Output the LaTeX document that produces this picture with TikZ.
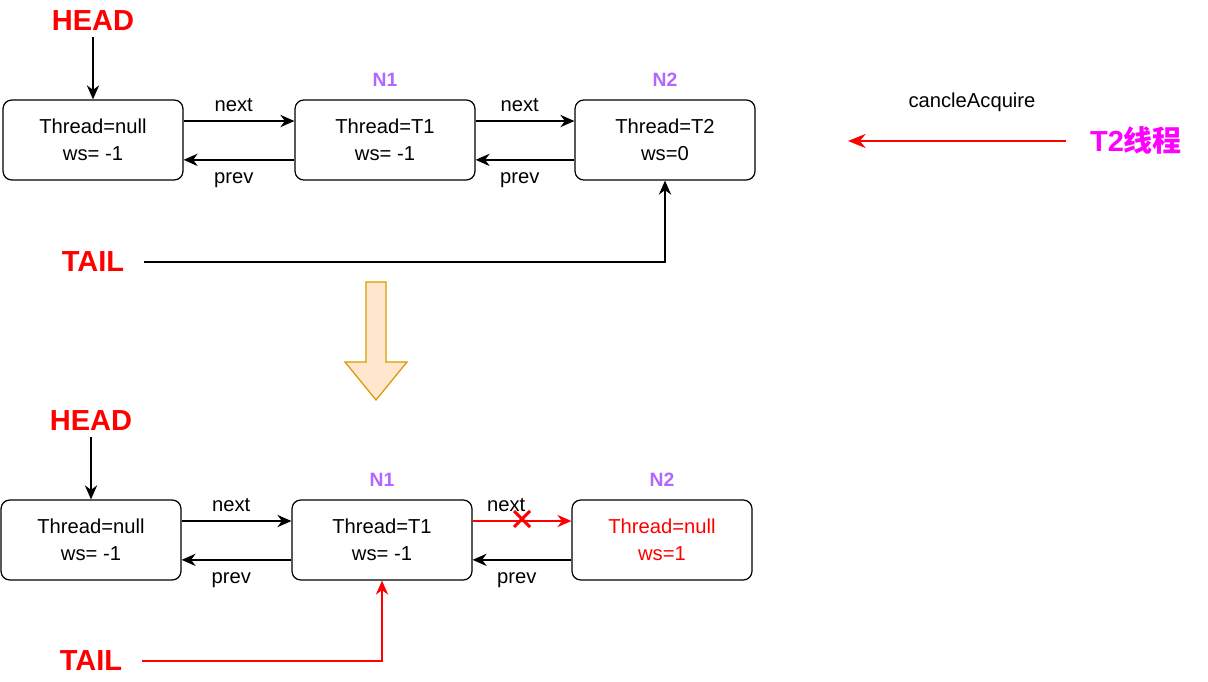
\documentclass[tikz,border=0pt]{standalone}
\usepackage{fontspec}
\setmainfont{Liberation Sans}
\newfontfamily\cjk{Noto Sans CJK SC}
\usetikzlibrary{arrows.meta,positioning,calc}
\definecolor{nodepurple}{HTML}{B266FF}
\definecolor{bigfill}{HTML}{FFE6CC}
\definecolor{bigdraw}{HTML}{D79B00}
\definecolor{tmagenta}{HTML}{FF00FF}

\begin{document}
\begin{tikzpicture}[x=0.02cm,y=-0.02cm,
    box/.style={draw, rounded corners=5pt, minimum width=3.6cm, minimum height=1.6cm, align=center, font=\fontsize{11.5}{15.5}\selectfont, line width=0.7pt},
    lbl/.style={font=\fontsize{11.5}{14}\selectfont, inner sep=5pt},
    ptr/.style={font=\bfseries\fontsize{16.5}{18}\selectfont, text=red},
    nname/.style={font=\bfseries\fontsize{11}{13}\selectfont, text=nodepurple},
    arr/.style={-{Stealth[length=8pt,width=7pt]}, line width=0.75pt}]

        \useasboundingbox (0,0) rectangle (1208,682);

        % before
        \node[box] (a1) at (93,140) {Thread=null\\ws= -1};
        \node[box] (a2) at (385,140) {Thread=T1\\ws= -1};
        \node[box] (a3) at (665,140) {Thread=T2\\ws=0};
        \node[nname] at (385,80) {N1};
        \node[nname] at (665,80) {N2};
        \node[ptr] (head1) at (93,21) {HEAD};
        \node[ptr] (tail1) at (93,262) {TAIL};

        \draw[arr] (head1) -- (a1);
        \draw[arr] ([yshift=10.8pt]a1.east) -- node[lbl,above,xshift=-3] {next} ([yshift=10.8pt]a2.west);
        \draw[arr] ([yshift=10.8pt]a2.east) -- node[lbl,above,xshift=-3] {next} ([yshift=10.8pt]a3.west);
        \draw[arr] ([yshift=-11.3pt]a2.west) -- node[lbl,below,xshift=-3,yshift=-2] {prev} ([yshift=-11.3pt]a1.east);
        \draw[arr] ([yshift=-11.3pt]a3.west) -- node[lbl,below,xshift=-3,yshift=-2] {prev} ([yshift=-11.3pt]a2.east);
        \draw[arr] (tail1.east) ++(14,0) -| (a3.south);

        % cancel
        \node[font=\bfseries\fontsize{16.5}{18}\selectfont, text=tmagenta] (t2) at (1136,140) {T2{\cjk 线程}};
        \coordinate (c1) at (848,141);
        \draw[-{Stealth[length=10pt,width=8pt]}, line width=1.3pt, red] (t2.west) ++(-18,1) -- (c1);
        \node[lbl] at (972,102) {cancleAcquire};

        % big arrow
        \draw[fill=bigfill, draw=bigdraw, line width=0.7pt]
            (366,282) -- (386,282) -- (386,362) -- (407,362) -- (376,400) -- (345,362) -- (366,362) -- cycle;

        % after
        \node[box] (b1) at (91,540) {Thread=null\\ws= -1};
        \node[box] (b2) at (382,540) {Thread=T1\\ws= -1};
        \node[box, text=red] (b3) at (662,540) {Thread=null\\ws=1};
        \node[nname] at (382,480) {N1};
        \node[nname] at (662,480) {N2};
        \node[ptr] (head2) at (91,421) {HEAD};
        \node[ptr] (tail2) at (91,661) {TAIL};

        \draw[arr] (head2) -- (b1);
        \draw[arr] ([yshift=10.8pt]b1.east) -- node[lbl,above,xshift=-3] {next} ([yshift=10.8pt]b2.west);
        \draw[arr, red] ([yshift=10.8pt]b2.east) -- node[lbl,above,text=black,xshift=-9] {next} ([yshift=10.8pt]b3.west);
        \draw[red, line width=1.8pt] (514,511) -- (530,527) (514,527) -- (530,511);
        \draw[arr] ([yshift=-11.3pt]b2.west) -- node[lbl,below,xshift=-3,yshift=-2] {prev} ([yshift=-11.3pt]b1.east);
        \draw[arr] ([yshift=-11.3pt]b3.west) -- node[lbl,below,xshift=-3,yshift=-2] {prev} ([yshift=-11.3pt]b2.east);
        \draw[arr, red] (tail2.east) ++(14,0) -| (b2.south);

\end{tikzpicture}
\end{document}
